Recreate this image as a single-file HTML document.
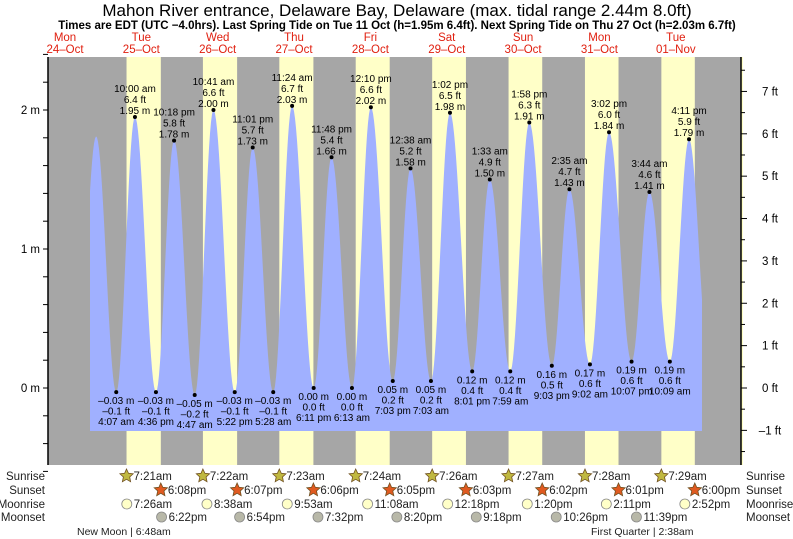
<!DOCTYPE html>
<html><head><meta charset="utf-8"><style>
html,body{margin:0;padding:0;background:#fff}
svg{display:block;font-family:"Liberation Sans",sans-serif}
</style></head><body>
<svg id="chart" width="793" height="539" viewBox="0 0 793 539">
<text x="397" y="16" text-anchor="middle" font-size="17" fill="#000">Mahon River entrance, Delaware Bay, Delaware (max. tidal range 2.44m 8.0ft)</text>
<text x="397" y="29" text-anchor="middle" font-size="11.5" font-weight="bold" fill="#000">Times are EDT (UTC −4.0hrs). Last Spring Tide on Tue 11 Oct (h=1.95m 6.4ft). Next Spring Tide on Thu 27 Oct (h=2.03m 6.7ft)</text>
<g id="bg"></g>
<g id="tide"></g>
<g id="axes"></g>
<g id="labels" font-size="10" fill="#000"></g>
<g id="sun" font-size="11.5" fill="#222"></g>
</svg>
<script>
// ---- data ----
const dayNames = ["Mon","Tue","Wed","Thu","Fri","Sat","Sun","Mon","Tue"];
const dayDates = ["24–Oct","25–Oct","26–Oct","27–Oct","28–Oct","29–Oct","30–Oct","31–Oct","01–Nov"];
const tideDay = [0,0,1,1,1,1,2,2,2,2,3,3,3,3,4,4,4,5,5,5,5,6,6,6,6,7,7,7,7,8,8,8,8,8];
const tideTime = ["3:30 pm","9:48 pm","4:07 am","10:00 am","4:36 pm","10:18 pm","4:47 am","10:41 am","5:22 pm","11:01 pm","5:28 am","11:24 am","6:11 pm","11:48 pm","6:13 am","12:10 pm","7:03 pm","12:38 am","7:03 am","1:02 pm","8:01 pm","1:33 am","7:59 am","1:58 pm","9:03 pm","2:35 am","9:02 am","3:02 pm","10:07 pm","3:44 am","10:09 am","4:11 pm","10:30 pm","11:59 pm"];
const tideHeight = [-0.03,1.81,-0.03,1.95,-0.03,1.78,-0.05,2.00,-0.03,1.73,-0.03,2.03,0.00,1.66,0.00,2.02,0.05,1.58,0.05,1.98,0.12,1.50,0.12,1.91,0.16,1.43,0.17,1.84,0.19,1.41,0.19,1.79,0.19,0.19];
const tideLabeled = [0,0,1,1,1,1,1,1,1,1,1,1,1,1,1,1,1,1,1,1,1,1,1,1,1,1,1,1,1,1,1,1,0,0];
const sunrise = ["7:21am","7:22am","7:23am","7:24am","7:26am","7:27am","7:28am","7:29am"];
const sunset = ["6:08pm","6:07pm","6:06pm","6:05pm","6:03pm","6:02pm","6:01pm","6:00pm"];
const moonrise = ["7:26am","8:38am","9:53am","11:08am","12:18pm","1:20pm","2:11pm","2:52pm"];
const moonset = ["6:22pm","6:54pm","7:32pm","8:20pm","9:18pm","10:26pm","11:39pm"];
const leftTicks = [0,1,2];
const rightTicks = [-1,0,1,2,3,4,5,6,7];

// ---- scales ----
const X0=26.8, PXH=3.181, PL=48, PR=741, PT=57, PB=465;
const xs = h => X0 + h*PXH;
const ys = m => 388 - m*139;
const yft = f => ys(f*0.3048);
function parseT(s){const m=s.match(/(\d+):(\d+)\s*(am|pm)/);let h=+m[1]%12;if(m[3]=="pm")h+=12;return h+ (+m[2])/60;}
const NS="http://www.w3.org/2000/svg";
function el(tag,attrs,parent,txt){const e=document.createElementNS(NS,tag);for(const k in attrs)e.setAttribute(k,attrs[k]);if(txt!=null)e.textContent=txt;parent.appendChild(e);return e;}
const neg = s => s.replace(/-/g,"–");

// background
const bg=document.getElementById('bg');
let r=el('rect',{x:PL,y:PT,width:PR-PL,height:PB-PT,fill:'#a6a6a6'},bg);


for(let i=0;i<sunrise.length;i++){
  const a=xs((i+1)*24+parseT(sunrise[i])), b=xs((i+1)*24+parseT(sunset[i]));
  const d=el('rect',{x:a,y:PT,width:b-a,height:PB-PT,fill:'#ffffc8'},bg);
  
  
}
el('rect',{x:PR,y:PT,width:2,height:PB-PT,fill:'#ffffc8'},bg);

// day labels
for(let i=0;i<dayNames.length;i++){
  const x=65+76.35*i;
  const t1=el('text',{x:x,y:41,'text-anchor':'middle','font-size':11.5,fill:'#e02010'},bg,dayNames[i]);
  
  
  const t2=el('text',{x:x,y:53,'text-anchor':'middle','font-size':11.5,fill:'#e02010'},bg,dayDates[i]);
  
  
}

// tide curve
const th=tideTime.map((t,i)=>tideDay[i]*24+parseT(t));
const tg=document.getElementById('tide');
let d='M90,431';
for(let px=90;px<=702;px++){
  const h=(px-X0)/PXH;
  let k=0;while(k<th.length-2&&th[k+1]<h)k++;
  const f=Math.max(0,Math.min(1,(h-th[k])/(th[k+1]-th[k])));
  const v=tideHeight[k]+(tideHeight[k+1]-tideHeight[k])*(1-Math.cos(Math.PI*f))/2;
  d+=' L'+px+','+Math.min(431,ys(v)).toFixed(1);
}
d+=' L702,431 Z';
const p=el('path',{d:d,fill:'#a0b0ff'},tg);



// labels
const lg=document.getElementById('labels');
for(let i=0;i<th.length;i++){
  if(!tideLabeled[i])continue;
  const x=xs(th[i]), y=ys(tideHeight[i]);
  const high = i>0 && tideHeight[i]>tideHeight[i-1];
  const dot=el('circle',{cx:x,cy:y,r:2,fill:'#000'},lg);
  
  
  const m=neg(tideHeight[i].toFixed(2))+' m', ft=neg((tideHeight[i]*3.28084).toFixed(1))+' ft';
  const lines = high ? [[tideTime[i],y-25],[ft,y-14],[m,y-3]] : [[m,y+12],[ft,y+22.5],[tideTime[i],y+33]];
  for(const [s,yy] of lines){
    const t=el('text',{x:x,y:yy,'text-anchor':'middle'},lg,s);
    
    
  }
}

// axes
const ax=document.getElementById('axes');
el('line',{x1:PL,y1:PT,x2:PL,y2:PB,stroke:'#000','stroke-width':1.5},ax);
el('line',{x1:PR,y1:PT,x2:PR,y2:PB,stroke:'#000','stroke-width':1.5},ax);
for(let v=-0.6;v<=2.41;v+=0.2){const y=ys(v);el('line',{x1:PL-5,y1:y,x2:PL,y2:y,stroke:'#000'},ax);}
for(const v of leftTicks){
  const t=el('text',{x:PL-8,y:ys(v)+4,'text-anchor':'end','font-size':11.5},ax,v+' m');
  
  
}
for(let f=-1.5;f<=7.6;f+=0.5){const y=yft(f);el('line',{x1:PR,y1:y,x2:PR+(f%1==0?6:4),y2:y,stroke:'#000'},ax);}
for(const v of rightTicks){
  const t=el('text',{x:PR+29,y:yft(v)+4,'text-anchor':'middle','font-size':11.5},ax,neg(String(v))+' ft');
  
  
}

// sun & moon
const sg=document.getElementById('sun');
const rows=[['Sunrise',476],['Sunset',490],['Moonrise',504],['Moonset',517]];
for(const [n,y] of rows){
  const a=el('text',{x:45,y:y+4,'text-anchor':'end'},sg,n);
  
  
  const b=el('text',{x:746,y:y+4},sg,n);
  
  
}
function star(cx,cy,fill){
  let pts=[];for(let k=0;k<10;k++){const rr=k%2?3.3:7,a=-Math.PI/2+k*Math.PI/5;pts.push((cx+rr*Math.cos(a)).toFixed(1)+','+(cy+rr*Math.sin(a)).toFixed(1));}
  return el('polygon',{points:pts.join(' '),fill:fill,stroke:'#705020','stroke-width':0.8},sg);
}
function ev(list,offset,y,kind){
  list.forEach((s,i)=>{
    const x=xs((i+offset)*24+parseT(s));
    let ic;
    if(kind=='sunrise')ic=star(x,y,'#c0b840');
    else if(kind=='sunset')ic=star(x,y,'#e05a20');
    else ic=el('circle',{cx:x,cy:y,r:5,fill:kind=='moonrise'?'#ffffc8':'#b8b8a8',stroke:'#888','stroke-width':0.8},sg);
    
    
    const t=el('text',{x:x+7,y:y+4},sg,s);
    
    
  });
}
ev(sunrise,1,476,'sunrise');ev(sunset,1,490,'sunset');ev(moonrise,1,504,'moonrise');ev(moonset,1,517,'moonset');
const np=el('text',{x:77,y:535,'font-size':10.5},sg,'New Moon | 6:48am');


const fq=el('text',{x:591,y:535,'font-size':10.5},sg,'First Quarter | 2:38am');


</script>
</body></html>
